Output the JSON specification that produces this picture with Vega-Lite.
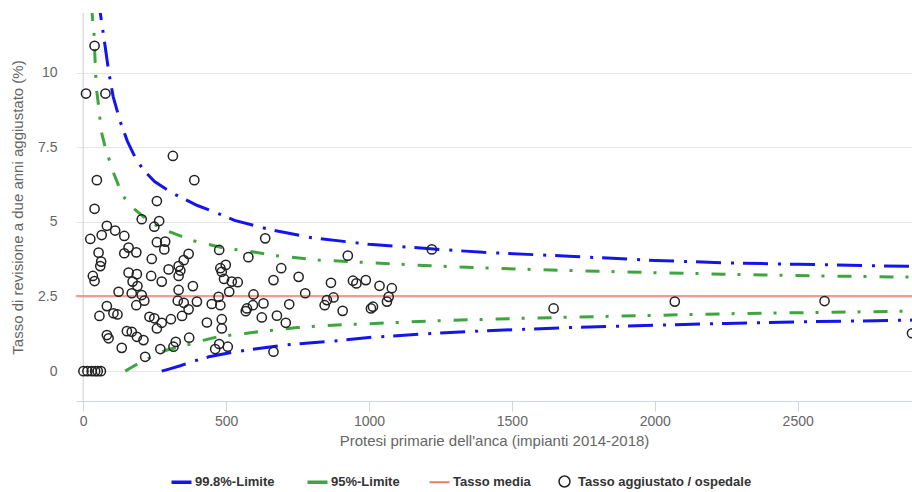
{
  "$schema": "https://vega.github.io/schema/vega-lite/v6.json",
  "autosize": {"type": "none"},
  "padding": {"left": 76, "top": 13, "right": 0, "bottom": 91},
  "width": 836,
  "height": 388,
  "background": "white",
  "config": {
    "view": {"stroke": null},
    "font": "Liberation Sans",
    "axis": {"labelFont": "Liberation Sans", "titleFont": "Liberation Sans", "labelColor": "#666666", "titleColor": "#666666", "titleFontWeight": "normal", "labelFontSize": 14, "titleFontSize": 15}
  },
  "datasets": {
    "limits": [
      {"serie": "99.8%-Limite", "side": "up", "n": 55, "v": 12.6},
      {"serie": "99.8%-Limite", "side": "up", "n": 60, "v": 12.0},
      {"serie": "99.8%-Limite", "side": "up", "n": 70, "v": 11.35},
      {"serie": "99.8%-Limite", "side": "up", "n": 90, "v": 10.0},
      {"serie": "99.8%-Limite", "side": "up", "n": 105, "v": 9.2},
      {"serie": "99.8%-Limite", "side": "up", "n": 130, "v": 8.35},
      {"serie": "99.8%-Limite", "side": "up", "n": 155, "v": 7.7},
      {"serie": "99.8%-Limite", "side": "up", "n": 180, "v": 7.2},
      {"serie": "99.8%-Limite", "side": "up", "n": 210, "v": 6.75},
      {"serie": "99.8%-Limite", "side": "up", "n": 250, "v": 6.35},
      {"serie": "99.8%-Limite", "side": "up", "n": 315, "v": 5.95},
      {"serie": "99.8%-Limite", "side": "up", "n": 400, "v": 5.55},
      {"serie": "99.8%-Limite", "side": "up", "n": 455, "v": 5.35},
      {"serie": "99.8%-Limite", "side": "up", "n": 530, "v": 5.05},
      {"serie": "99.8%-Limite", "side": "up", "n": 650, "v": 4.75},
      {"serie": "99.8%-Limite", "side": "up", "n": 800, "v": 4.47},
      {"serie": "99.8%-Limite", "side": "up", "n": 1000, "v": 4.25},
      {"serie": "99.8%-Limite", "side": "up", "n": 1215, "v": 4.1},
      {"serie": "99.8%-Limite", "side": "up", "n": 1400, "v": 3.98},
      {"serie": "99.8%-Limite", "side": "up", "n": 1700, "v": 3.85},
      {"serie": "99.8%-Limite", "side": "up", "n": 2000, "v": 3.71},
      {"serie": "99.8%-Limite", "side": "up", "n": 2250, "v": 3.63},
      {"serie": "99.8%-Limite", "side": "up", "n": 2500, "v": 3.58},
      {"serie": "99.8%-Limite", "side": "up", "n": 2900, "v": 3.51},
      {"serie": "99.8%-Limite", "side": "low", "n": 275, "v": 0.0},
      {"serie": "99.8%-Limite", "side": "low", "n": 300, "v": 0.07},
      {"serie": "99.8%-Limite", "side": "low", "n": 340, "v": 0.18},
      {"serie": "99.8%-Limite", "side": "low", "n": 385, "v": 0.33},
      {"serie": "99.8%-Limite", "side": "low", "n": 440, "v": 0.48},
      {"serie": "99.8%-Limite", "side": "low", "n": 520, "v": 0.63},
      {"serie": "99.8%-Limite", "side": "low", "n": 600, "v": 0.74},
      {"serie": "99.8%-Limite", "side": "low", "n": 700, "v": 0.87},
      {"serie": "99.8%-Limite", "side": "low", "n": 800, "v": 0.95},
      {"serie": "99.8%-Limite", "side": "low", "n": 900, "v": 1.03},
      {"serie": "99.8%-Limite", "side": "low", "n": 1000, "v": 1.13},
      {"serie": "99.8%-Limite", "side": "low", "n": 1215, "v": 1.26},
      {"serie": "99.8%-Limite", "side": "low", "n": 1400, "v": 1.35},
      {"serie": "99.8%-Limite", "side": "low", "n": 1700, "v": 1.46},
      {"serie": "99.8%-Limite", "side": "low", "n": 2000, "v": 1.54},
      {"serie": "99.8%-Limite", "side": "low", "n": 2250, "v": 1.6},
      {"serie": "99.8%-Limite", "side": "low", "n": 2500, "v": 1.65},
      {"serie": "99.8%-Limite", "side": "low", "n": 2900, "v": 1.71},
      {"serie": "95%-Limite", "side": "up", "n": 30, "v": 12.2},
      {"serie": "95%-Limite", "side": "up", "n": 33, "v": 11.8},
      {"serie": "95%-Limite", "side": "up", "n": 38, "v": 11.33},
      {"serie": "95%-Limite", "side": "up", "n": 42, "v": 10.35},
      {"serie": "95%-Limite", "side": "up", "n": 46, "v": 9.5},
      {"serie": "95%-Limite", "side": "up", "n": 54, "v": 8.9},
      {"serie": "95%-Limite", "side": "up", "n": 63, "v": 8.05},
      {"serie": "95%-Limite", "side": "up", "n": 80, "v": 7.4},
      {"serie": "95%-Limite", "side": "up", "n": 95, "v": 6.98},
      {"serie": "95%-Limite", "side": "up", "n": 106, "v": 6.65},
      {"serie": "95%-Limite", "side": "up", "n": 123, "v": 6.24},
      {"serie": "95%-Limite", "side": "up", "n": 145, "v": 5.8},
      {"serie": "95%-Limite", "side": "up", "n": 176, "v": 5.46},
      {"serie": "95%-Limite", "side": "up", "n": 222, "v": 5.09},
      {"serie": "95%-Limite", "side": "up", "n": 242, "v": 4.95},
      {"serie": "95%-Limite", "side": "up", "n": 292, "v": 4.71},
      {"serie": "95%-Limite", "side": "up", "n": 340, "v": 4.53},
      {"serie": "95%-Limite", "side": "up", "n": 386, "v": 4.37},
      {"serie": "95%-Limite", "side": "up", "n": 433, "v": 4.26},
      {"serie": "95%-Limite", "side": "up", "n": 495, "v": 4.12},
      {"serie": "95%-Limite", "side": "up", "n": 580, "v": 4.02},
      {"serie": "95%-Limite", "side": "up", "n": 672, "v": 3.87},
      {"serie": "95%-Limite", "side": "up", "n": 725, "v": 3.82},
      {"serie": "95%-Limite", "side": "up", "n": 825, "v": 3.72},
      {"serie": "95%-Limite", "side": "up", "n": 950, "v": 3.66},
      {"serie": "95%-Limite", "side": "up", "n": 1215, "v": 3.53},
      {"serie": "95%-Limite", "side": "up", "n": 1450, "v": 3.44},
      {"serie": "95%-Limite", "side": "up", "n": 1715, "v": 3.37},
      {"serie": "95%-Limite", "side": "up", "n": 2000, "v": 3.3},
      {"serie": "95%-Limite", "side": "up", "n": 2290, "v": 3.24},
      {"serie": "95%-Limite", "side": "up", "n": 2590, "v": 3.19},
      {"serie": "95%-Limite", "side": "up", "n": 2900, "v": 3.15},
      {"serie": "95%-Limite", "side": "low", "n": 147, "v": 0.0},
      {"serie": "95%-Limite", "side": "low", "n": 170, "v": 0.13},
      {"serie": "95%-Limite", "side": "low", "n": 194, "v": 0.26},
      {"serie": "95%-Limite", "side": "low", "n": 240, "v": 0.48},
      {"serie": "95%-Limite", "side": "low", "n": 290, "v": 0.7},
      {"serie": "95%-Limite", "side": "low", "n": 365, "v": 0.88},
      {"serie": "95%-Limite", "side": "low", "n": 420, "v": 1.03},
      {"serie": "95%-Limite", "side": "low", "n": 470, "v": 1.15},
      {"serie": "95%-Limite", "side": "low", "n": 520, "v": 1.21},
      {"serie": "95%-Limite", "side": "low", "n": 567, "v": 1.26},
      {"serie": "95%-Limite", "side": "low", "n": 614, "v": 1.32},
      {"serie": "95%-Limite", "side": "low", "n": 700, "v": 1.41},
      {"serie": "95%-Limite", "side": "low", "n": 750, "v": 1.46},
      {"serie": "95%-Limite", "side": "low", "n": 850, "v": 1.53},
      {"serie": "95%-Limite", "side": "low", "n": 950, "v": 1.57},
      {"serie": "95%-Limite", "side": "low", "n": 1215, "v": 1.68},
      {"serie": "95%-Limite", "side": "low", "n": 1450, "v": 1.75},
      {"serie": "95%-Limite", "side": "low", "n": 1715, "v": 1.81},
      {"serie": "95%-Limite", "side": "low", "n": 2000, "v": 1.87},
      {"serie": "95%-Limite", "side": "low", "n": 2290, "v": 1.93},
      {"serie": "95%-Limite", "side": "low", "n": 2590, "v": 1.97},
      {"serie": "95%-Limite", "side": "low", "n": 2900, "v": 2.01}
    ],
    "mean": [
      {"serie": "Tasso media", "n": -25, "v": 2.52},
      {"serie": "Tasso media", "n": 2900, "v": 2.52}
    ],
    "hosp": [
      {"n": 40, "v": 10.9}, {"n": 10, "v": 9.3}, {"n": 78, "v": 9.3}, {"n": 314, "v": 7.21},
      {"n": 389, "v": 6.4}, {"n": 48, "v": 6.4}, {"n": 40, "v": 5.44}, {"n": 258, "v": 5.7},
      {"n": 25, "v": 4.43}, {"n": 65, "v": 4.56}, {"n": 83, "v": 4.87}, {"n": 112, "v": 4.71},
      {"n": 144, "v": 4.53}, {"n": 159, "v": 4.14}, {"n": 144, "v": 3.95}, {"n": 186, "v": 3.98},
      {"n": 205, "v": 5.09}, {"n": 249, "v": 4.84}, {"n": 266, "v": 5.03}, {"n": 258, "v": 4.32},
      {"n": 287, "v": 4.34}, {"n": 284, "v": 4.08}, {"n": 240, "v": 3.76}, {"n": 54, "v": 3.97},
      {"n": 63, "v": 3.67}, {"n": 60, "v": 3.52}, {"n": 34, "v": 3.19}, {"n": 40, "v": 3.02},
      {"n": 159, "v": 3.3}, {"n": 188, "v": 3.25}, {"n": 173, "v": 3.0}, {"n": 190, "v": 2.85},
      {"n": 124, "v": 2.66}, {"n": 170, "v": 2.61}, {"n": 205, "v": 2.55}, {"n": 214, "v": 2.36},
      {"n": 186, "v": 2.21}, {"n": 83, "v": 2.18}, {"n": 57, "v": 1.85}, {"n": 106, "v": 1.94},
      {"n": 120, "v": 1.9}, {"n": 238, "v": 3.19}, {"n": 275, "v": 3.0}, {"n": 299, "v": 3.41},
      {"n": 334, "v": 3.52}, {"n": 340, "v": 3.37}, {"n": 334, "v": 3.19}, {"n": 369, "v": 3.93},
      {"n": 352, "v": 3.72}, {"n": 384, "v": 2.85}, {"n": 334, "v": 2.72}, {"n": 331, "v": 2.36},
      {"n": 352, "v": 2.29}, {"n": 398, "v": 2.33}, {"n": 369, "v": 2.07}, {"n": 346, "v": 1.85},
      {"n": 307, "v": 1.74}, {"n": 275, "v": 1.62}, {"n": 232, "v": 1.82}, {"n": 249, "v": 1.77},
      {"n": 258, "v": 1.43}, {"n": 153, "v": 1.34}, {"n": 170, "v": 1.32}, {"n": 83, "v": 1.21},
      {"n": 89, "v": 1.1}, {"n": 188, "v": 1.15}, {"n": 211, "v": 1.04}, {"n": 135, "v": 0.78},
      {"n": 217, "v": 0.48}, {"n": 270, "v": 0.74}, {"n": 316, "v": 0.82}, {"n": 324, "v": 0.98},
      {"n": 371, "v": 1.12}, {"n": 433, "v": 1.63}, {"n": 450, "v": 2.25}, {"n": 474, "v": 2.49},
      {"n": 480, "v": 2.21}, {"n": 485, "v": 1.74}, {"n": 485, "v": 1.43}, {"n": 462, "v": 0.74},
      {"n": 476, "v": 0.91}, {"n": 506, "v": 0.82}, {"n": 476, "v": 4.06}, {"n": 480, "v": 3.45},
      {"n": 485, "v": 3.33}, {"n": 499, "v": 3.56}, {"n": 493, "v": 3.09}, {"n": 541, "v": 2.98},
      {"n": 520, "v": 3.0}, {"n": 511, "v": 2.66}, {"n": 578, "v": 3.82}, {"n": 637, "v": 4.45},
      {"n": 666, "v": 3.05}, {"n": 693, "v": 3.45}, {"n": 596, "v": 2.57}, {"n": 594, "v": 2.21},
      {"n": 569, "v": 2.01}, {"n": 573, "v": 2.1}, {"n": 631, "v": 2.27}, {"n": 625, "v": 1.8},
      {"n": 678, "v": 1.86}, {"n": 709, "v": 1.62}, {"n": 721, "v": 2.24}, {"n": 666, "v": 0.65},
      {"n": 754, "v": 3.16}, {"n": 777, "v": 2.61},
      {"n": 926, "v": 3.87}, {"n": 867, "v": 2.96}, {"n": 944, "v": 3.03}, {"n": 956, "v": 2.94},
      {"n": 989, "v": 3.05}, {"n": 1037, "v": 2.86}, {"n": 1080, "v": 2.78}, {"n": 1069, "v": 2.49},
      {"n": 1063, "v": 2.33}, {"n": 1014, "v": 2.16}, {"n": 1007, "v": 2.1}, {"n": 876, "v": 2.47},
      {"n": 853, "v": 2.38}, {"n": 845, "v": 2.21}, {"n": 908, "v": 2.02}, {"n": 1220, "v": 4.08},
      {"n": 1646, "v": 2.1}, {"n": 2070, "v": 2.33}, {"n": 2594, "v": 2.35}, {"n": 2900, "v": 1.27},
      {"n": 1, "v": 0}, {"n": 15, "v": 0}, {"n": 30, "v": 0}, {"n": 42, "v": 0}, {"n": 51, "v": 0}, {"n": 62, "v": 0}
    ]
  },
  "encoding": {
    "x": {
      "field": "n", "type": "quantitative",
      "scale": {"domain": [-25, 2900], "nice": false, "zero": false},
      "axis": {
        "title": "Protesi primarie dell'anca (impianti 2014-2018)",
        "values": [0, 500, 1000, 1500, 2000, 2500], "format": "d",
        "grid": false, "domainColor": "#ccd6eb", "tickColor": "#ccd6eb", "tickSize": 10,
        "labelPadding": 3, "titlePadding": 5
      }
    },
    "y": {
      "field": "v", "type": "quantitative",
      "scale": {"domain": [-1, 12], "nice": false, "zero": false},
      "axis": {
        "title": "Tasso di revisione a due anni aggiustato (%)",
        "values": [0, 2.5, 5, 7.5, 10], "format": "~g",
        "grid": true, "gridColor": "#e6e6e6", "domain": false, "ticks": false,
        "labelPadding": 19, "titlePadding": 12
      }
    }
  },
  "layer": [
    {
      "data": {"values": [{"n": 0}]},
      "mark": {"type": "rule", "color": "#cccccc", "strokeWidth": 1},
      "encoding": {"y": {"value": 0}, "y2": {"value": 388}}
    },
    {
      "data": {"name": "mean"},
      "mark": {"type": "line", "strokeWidth": 1.5, "clip": true},
      "encoding": {
        "color": {
          "field": "serie", "type": "nominal",
          "scale": {"domain": ["99.8%-Limite", "95%-Limite", "Tasso media", "Tasso aggiustato / ospedale"], "range": ["#1414f0", "#3fa53f", "#f07b66", "#222222"]},
          "legend": {
            "title": null, "orient": "none", "direction": "horizontal", "legendX": 99, "legendY": 462,
            "labelFont": "Liberation Sans", "labelFontSize": 13, "labelFontWeight": "bold", "labelColor": "#333333", "labelLimit": 400,
            "symbolSize": 400, "symbolStrokeWidth": 3, "columnPadding": 25, "labelOffset": 7, "padding": 0,
            "encode": {
              "symbols": {
                "update": {
                  "shape": {"signal": "datum.value === 'Tasso aggiustato / ospedale' ? 'circle' : 'stroke'"},
                  "size": {"signal": "datum.value === 'Tasso aggiustato / ospedale' ? 120 : 400"},
                  "strokeWidth": {"signal": "datum.value === 'Tasso aggiustato / ospedale' ? 1.5 : (datum.value === 'Tasso media' ? 2 : 3.5)"},
                  "stroke": {"signal": "datum.value === '99.8%-Limite' ? '#1414f0' : (datum.value === '95%-Limite' ? '#3fa53f' : (datum.value === 'Tasso media' ? '#f07b66' : '#222222'))"},
                  "fill": {"value": "transparent"},
                  "strokeDash": {"value": []},
                  "opacity": {"value": 1}
                }
              }
            }
          }
        }
      }
    },
    {
      "data": {"name": "limits"},
      "mark": {"type": "line", "strokeWidth": 3, "clip": true},
      "encoding": {
        "color": {"field": "serie", "type": "nominal"},
        "detail": {"field": "side", "type": "nominal"},
        "strokeDash": {
          "field": "serie", "type": "nominal",
          "scale": {"domain": ["99.8%-Limite", "95%-Limite"], "range": [[25, 10, 3, 9], [14, 12, 3, 13]]},
          "legend": null
        }
      }
    },
    {
      "data": {"name": "hosp"},
      "mark": {"type": "point", "shape": "circle", "filled": false, "size": 85, "strokeWidth": 1.5, "opacity": 1, "clip": true},
      "encoding": {
        "color": {"datum": "Tasso aggiustato / ospedale", "type": "nominal"}
      }
    }
  ]
}
